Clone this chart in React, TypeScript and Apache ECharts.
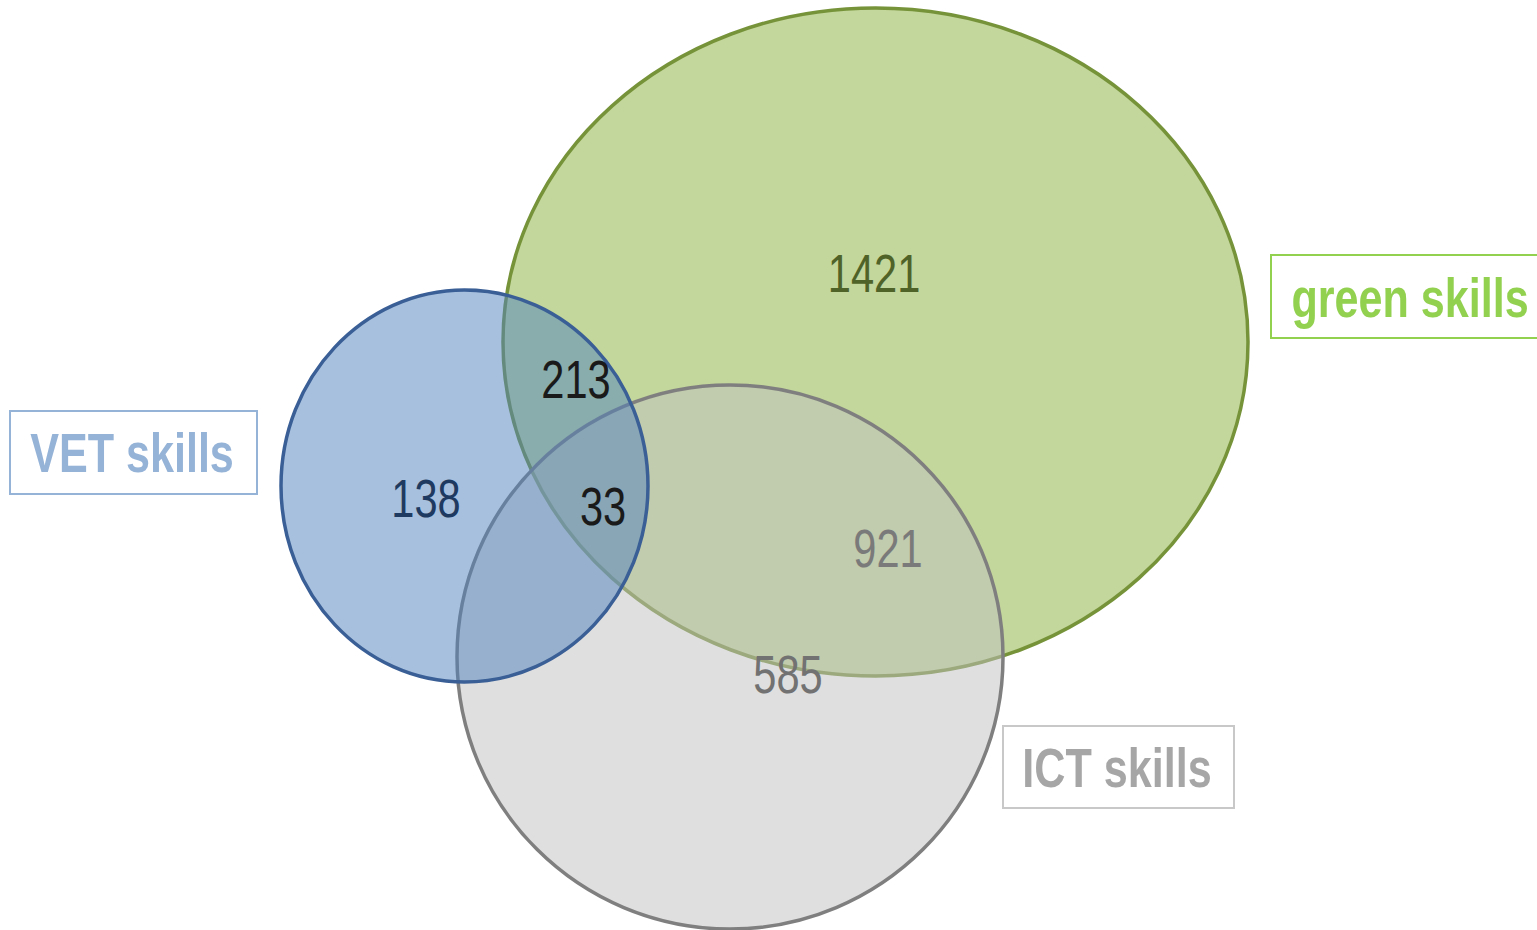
import React, { useEffect, useRef } from "react";
import * as echarts from "echarts";

// ---- data ----
const setNames = ["green skills", "ICT skills", "VET skills"];
const regionNames = ["green only", "green & VET", "VET only", "all three", "green & ICT", "ICT only"];
const regionCounts = [1421, 213, 138, 33, 921, 585];

// ---- layout (chart units = pixels of the 1537x930 canvas) ----
const ellipseCX = [875.5, 730, 464.5];
const ellipseCY = [342, 657, 486];
const ellipseRX = [372.5, 273, 183.5];
const ellipseRY = [334, 272, 196];
const setFill = ["rgba(155,187,89,0.6)", "rgba(191,191,191,0.5)", "rgba(79,129,189,0.5)"];
const setStroke = ["#76933a", "#7f7f7f", "#3a5f96"];
const labelColor = ["#92d050", "#a6a6a6", "#95b3d7"];
const boxStroke = ["#92d050", "#c8c8c8", "#95b3d7"];
const boxX = [1271, 1003, 10];
const boxY = [255, 726, 411];
const boxW = [290, 231, 247];
const boxH = [83, 82, 83];
const labelCX = [1410, 1117, 132];
const labelCY = [298, 768, 453];

const regionX = [874, 576, 426, 603, 888, 788];
const regionY = [273, 379, 498, 506, 548, 674];
const regionColor = ["#4f6228", "#1a1a1a", "#1f3a60", "#1a1a1a", "#7a7a7a", "#727272"];

const SCALE_X = 0.77;

export default function App() {
  const ref = useRef<HTMLDivElement>(null);
  useEffect(() => {
    if (!ref.current) return;
    document.body.style.margin = "0";
    const chart = echarts.init(ref.current, null, { renderer: "svg" });
    const ellipseData = setNames.map((n, i) => ({
      name: n,
      value: [ellipseCX[i], ellipseCY[i], ellipseRX[i], ellipseRY[i], i],
    }));
    const labelData = setNames.map((n, i) => ({
      name: n,
      value: [boxX[i], boxY[i], boxW[i], boxH[i], labelCX[i], labelCY[i], i],
    }));
    const regionData = regionNames.map((n, i) => ({
      name: n,
      value: [regionX[i], regionY[i], regionCounts[i], i],
    }));
    chart.setOption({
      animation: false,
      backgroundColor: "#ffffff",
      grid: { left: 0, right: 0, top: 0, bottom: 0 },
      xAxis: { type: "value", min: 0, max: 1537, show: false },
      yAxis: { type: "value", min: 0, max: 930, inverse: true, show: false },
      tooltip: { show: false },
      series: [
        {
          type: "custom",
          name: "sets",
          clip: false,
          data: ellipseData,
          renderItem: (params: any, api: any) => {
            const i = api.value(4);
            const c = api.coord([api.value(0), api.value(1)]);
            const s = api.size([api.value(2), api.value(3)]);
            return {
              type: "ellipse",
              shape: { cx: c[0], cy: c[1], rx: s[0], ry: s[1] },
              style: { fill: setFill[i], stroke: setStroke[i], lineWidth: 3.5 },
            };
          },
        },
        {
          type: "custom",
          name: "labels",
          clip: false,
          data: labelData,
          renderItem: (params: any, api: any) => {
            const i = api.value(6);
            const p = api.coord([api.value(0), api.value(1)]);
            const s = api.size([api.value(2), api.value(3)]);
            const t = api.coord([api.value(4), api.value(5)]);
            return {
              type: "group",
              children: [
                {
                  type: "rect",
                  shape: { x: p[0], y: p[1], width: s[0], height: s[1] },
                  style: { fill: "#ffffff", stroke: boxStroke[i], lineWidth: 2 },
                },
                {
                  type: "text",
                  x: t[0],
                  y: t[1],
                  scaleX: SCALE_X,
                  style: {
                    x: 0,
                    y: 0,
                    text: setNames[i],
                    fill: labelColor[i],
                    font: 'bold 56px "Liberation Sans", Arial, sans-serif',
                    align: "center",
                    verticalAlign: "middle",
                  },
                },
              ],
            };
          },
        },
        {
          type: "custom",
          name: "counts",
          clip: false,
          data: regionData,
          renderItem: (params: any, api: any) => {
            const i = api.value(3);
            const p = api.coord([api.value(0), api.value(1)]);
            return {
              type: "text",
              x: p[0],
              y: p[1],
              scaleX: SCALE_X,
              style: {
                x: 0,
                y: 0,
                text: String(api.value(2)),
                fill: regionColor[i],
                font: 'normal 54px "Liberation Sans", Arial, sans-serif',
                align: "center",
                verticalAlign: "middle",
              },
            };
          },
        },
      ],
    });
    return () => chart.dispose();
  }, []);
  return <div ref={ref} style={{ width: 1537, height: 930 }} />;
}
